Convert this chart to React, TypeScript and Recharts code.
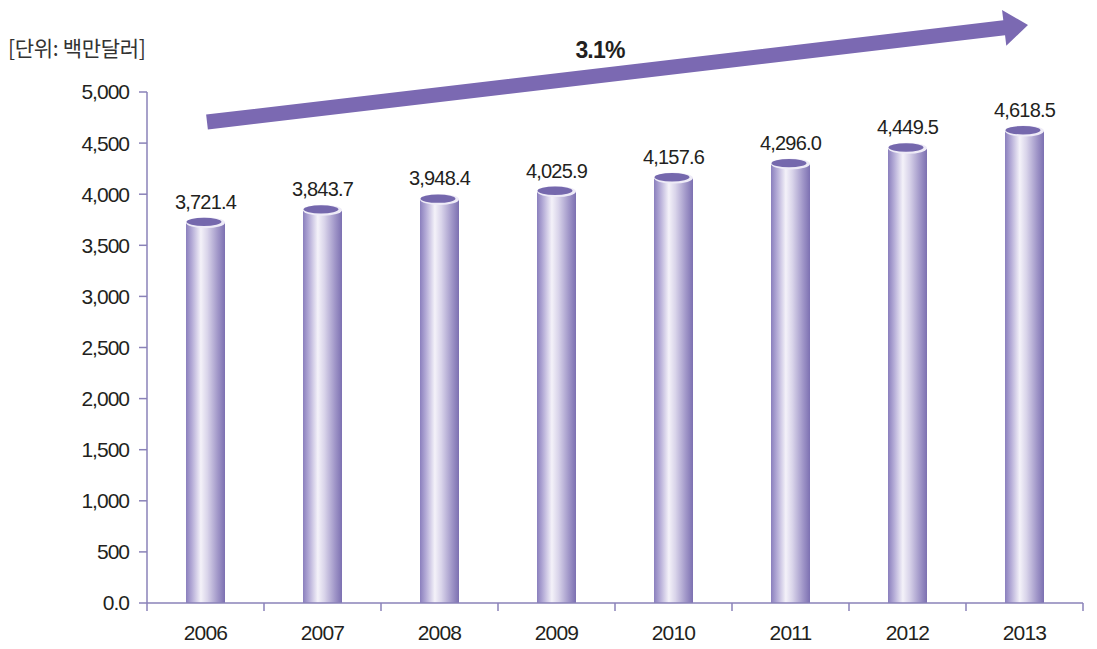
import { Bar, BarChart, LabelList, XAxis, YAxis } from "recharts";

const years = ["2006", "2007", "2008", "2009", "2010", "2011", "2012", "2013"];
const values = [3721.4, 3843.7, 3948.4, 4025.9, 4157.6, 4296.0, 4449.5, 4618.5];
const yTicks = [0, 500, 1000, 1500, 2000, 2500, 3000, 3500, 4000, 4500, 5000];
const unitLabel = "[단위: 백만달러]";
const growthLabel = "3.1%";

const data = years.map((year, i) => ({ year, value: values[i] }));

const CHART_W = 1089;
const CHART_H = 641;
const MARGIN = { top: 84, right: 14, bottom: 0, left: 0 };
const Y_AXIS_W = 139;
const X_AXIS_H = 46;
const BAND = (CHART_W - MARGIN.left - MARGIN.right - Y_AXIS_W) / years.length;

const axisColor = "#8a82b8";
const textColor = "#231f20";
const numFont = "'Liberation Sans', Arial, sans-serif";

const fmt = (v: number) => (v === 0 ? "0.0" : v.toLocaleString("en-US"));
const fmtValue = (v: number) =>
  v.toLocaleString("en-US", { minimumFractionDigits: 1, maximumFractionDigits: 1 });

function Cylinder(props: any) {
  const { x, y, width, height } = props;
  const rx = width / 2;
  return (
    <g>
      <rect x={x} y={y} width={width} height={height} fill="url(#cylBody)" />
      <ellipse cx={x + rx} cy={y} rx={rx} ry={5.5} fill="#eeebf7" />
      <ellipse cx={x + rx - 1.5} cy={y - 0.8} rx={rx - 2} ry={4.2} fill="#7568ad" />
    </g>
  );
}

function YearTick(props: any) {
  const { x, y, payload, index } = props;
  const left = x - BAND / 2;
  return (
    <g>
      <line x1={left} x2={left} y1={y} y2={y + 8} stroke={axisColor} strokeWidth={1.5} />
      {index === years.length - 1 && (
        <line x1={x + BAND / 2} x2={x + BAND / 2} y1={y} y2={y + 8} stroke={axisColor} strokeWidth={1.5} />
      )}
      <text
        x={x}
        y={y + 37}
        textAnchor="middle"
        fill={textColor}
        fontSize={21}
        fontFamily={numFont}
        letterSpacing={-0.8}
      >
        {payload.value}
      </text>
    </g>
  );
}

function GrowthArrow() {
  const sx = 199, sy = 114, tx = 1020, ty = 17;
  const len = Math.hypot(tx - sx, ty - sy);
  const dx = (tx - sx) / len, dy = (ty - sy) / len;
  const nx = -dy, ny = dx;
  const headLen = 24, shaft = 7.5, head = 18;
  const bx = tx - dx * headLen, by = ty - dy * headLen;
  const pts = [
    [sx + nx * shaft, sy + ny * shaft],
    [bx + nx * shaft, by + ny * shaft],
    [bx + nx * head, by + ny * head],
    [tx, ty],
    [bx - nx * head, by - ny * head],
    [bx - nx * shaft, by - ny * shaft],
    [sx - nx * shaft, sy - ny * shaft],
  ]
    .map((p) => p.join(","))
    .join(" ");
  return <polygon points={pts} fill="#7b69b2" />;
}

export default function App() {
  return (
    <div style={{ position: "relative", width: CHART_W, height: CHART_H, background: "#fff" }}>
      <BarChart width={CHART_W} height={CHART_H} data={data} margin={MARGIN} barCategoryGap={0}>
        <defs>
          <linearGradient id="cylBody" x1="0" x2="1" y1="0" y2="0">
            <stop offset="0%" stopColor="#8a7fbd" />
            <stop offset="15%" stopColor="#b3aad6" />
            <stop offset="38%" stopColor="#f4f2f9" />
            <stop offset="55%" stopColor="#d9d4ea" />
            <stop offset="82%" stopColor="#a096c8" />
            <stop offset="100%" stopColor="#7c70b1" />
          </linearGradient>
        </defs>
        <YAxis
          width={Y_AXIS_W}
          domain={[0, 5000]}
          ticks={yTicks}
          interval={0}
          tickFormatter={fmt}
          tickSize={8}
          tickMargin={10}
          axisLine={{ stroke: axisColor, strokeWidth: 1.5 }}
          tickLine={{ stroke: axisColor, strokeWidth: 1.5 }}
          tick={{ fill: textColor, fontSize: 21, fontFamily: numFont, letterSpacing: -1 }}
        />
        <XAxis
          dataKey="year"
          height={X_AXIS_H}
          interval={0}
          tickSize={0}
          tickMargin={0}
          tickLine={false}
          axisLine={{ stroke: axisColor, strokeWidth: 1.5 }}
          tick={<YearTick />}
        />
        <Bar dataKey="value" barSize={39} shape={<Cylinder />} isAnimationActive={false}>
          <LabelList
            dataKey="value"
            position="top"
            offset={14}
            formatter={(v: any) => fmtValue(Number(v))}
            fill={textColor}
            fontSize={20}
            fontFamily={numFont}
            letterSpacing={-0.8}
          />
        </Bar>
      </BarChart>
      <svg
        width={CHART_W}
        height={CHART_H}
        style={{ position: "absolute", left: 0, top: 0, pointerEvents: "none" }}
      >
        <GrowthArrow />
        <text x={0} y={48} fill="#333" fontSize={21} fontFamily="'Noto Sans CJK KR', sans-serif" letterSpacing={-0.3}>
          {unitLabel}
        </text>
        <text
          x={592}
          y={50}
          textAnchor="middle"
          fill={textColor}
          fontSize={23}
          fontWeight="bold"
          fontFamily={numFont}
          letterSpacing={-0.8}
        >
          {growthLabel}
        </text>
      </svg>
    </div>
  );
}
